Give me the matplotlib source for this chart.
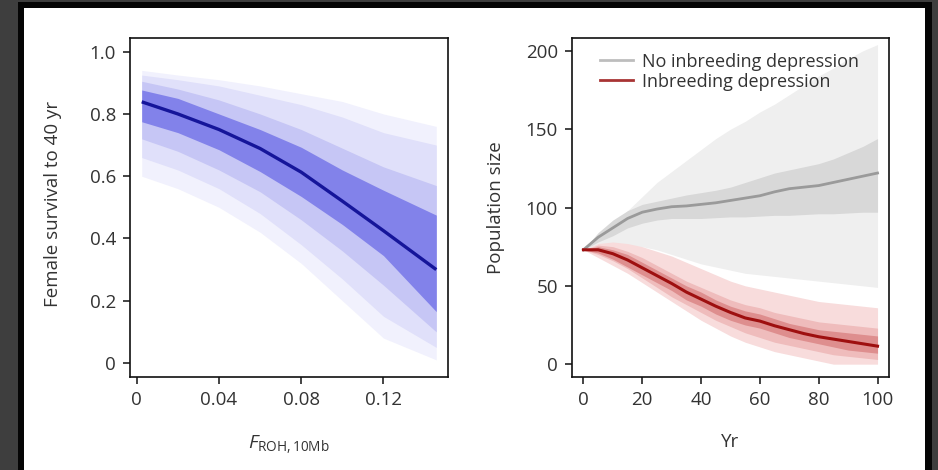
import matplotlib
matplotlib.use('Agg')
import matplotlib.pyplot as plt
from matplotlib.patches import Rectangle
from matplotlib.lines import Line2D

FONT = 'Open Sans'
plt.rcParams['font.family'] = [FONT, 'DejaVu Sans']
plt.rcParams['mathtext.fontset'] = 'custom'
plt.rcParams['mathtext.rm'] = FONT
plt.rcParams['mathtext.it'] = FONT + ':italic'

# ---------------- Left panel data ----------------
froh = [0.0024, 0.02, 0.04, 0.06, 0.08, 0.10, 0.12, 0.1457]
surv_median = [0.839, 0.800, 0.750, 0.689, 0.613, 0.520, 0.425, 0.300]
surv_dark_up = [0.877, 0.850, 0.800, 0.750, 0.693, 0.620, 0.555, 0.475]
surv_dark_lo = [0.775, 0.740, 0.685, 0.615, 0.535, 0.445, 0.345, 0.165]
surv_mid_up = [0.905, 0.880, 0.845, 0.800, 0.750, 0.690, 0.630, 0.570]
surv_mid_lo = [0.720, 0.680, 0.620, 0.550, 0.460, 0.360, 0.250, 0.100]
surv_out2_up = [0.925, 0.910, 0.890, 0.860, 0.830, 0.790, 0.740, 0.700]
surv_out2_lo = [0.660, 0.620, 0.560, 0.480, 0.380, 0.270, 0.150, 0.050]
surv_out_up = [0.940, 0.925, 0.910, 0.890, 0.865, 0.840, 0.800, 0.760]
surv_out_lo = [0.600, 0.560, 0.500, 0.420, 0.320, 0.200, 0.080, 0.010]
left_xticks = [0, 0.04, 0.08, 0.12]
left_xticklabels = ['0', '0.04', '0.08', '0.12']
left_yticks = [0, 0.2, 0.4, 0.6, 0.8, 1.0]
left_yticklabels = ['0', '0.2', '0.4', '0.6', '0.8', '1.0']

# ---------------- Right panel data ----------------
years = [0, 5, 10, 15, 20, 25, 30, 35, 40, 45, 50, 55, 60, 65, 70, 75, 80, 85, 90, 95, 100]
noid_median = [73, 81, 87, 93, 97, 99, 100.5, 101, 102, 103, 104.5, 106, 107.5, 110, 112, 113, 114, 116, 118, 120, 122]
noid_in_up = [73, 84, 92, 98, 102, 104, 106, 108, 109.5, 111, 113, 116, 119, 122, 124, 126, 128, 131, 135, 139, 144]
noid_in_lo = [73, 78, 82, 87, 90, 92, 93, 93, 93, 93.5, 94, 94, 94.5, 95, 95, 95.5, 96, 96, 96.5, 97, 97]
noid_out_up = [73, 80, 88, 98, 107, 116, 123, 130, 137, 144, 150, 155, 161, 166, 172, 178, 184, 189, 195, 200, 204]
noid_out_lo = [73, 75, 76, 76, 75, 73, 70, 67, 64, 62, 60, 58, 57, 56, 55, 54, 53, 52, 51, 50, 49]

id_median = [73, 73, 70.5, 66.5, 61.5, 56.5, 51.5, 46, 41.5, 37, 33, 29.5, 27.5, 24.5, 22, 19.5, 17.5, 16, 14.5, 13, 11.5]
id_in_up = [73, 75, 73, 70, 65, 60, 55, 50, 46, 41, 37, 34, 32, 29, 26, 24, 22, 21, 20, 19, 18]
id_in_lo = [73, 71, 67, 62, 57, 52, 47, 41, 37, 32, 28, 25, 23, 20, 17, 15, 13, 11, 9, 8, 7]
id_mid_up = [73, 76, 75, 72, 68, 63, 58, 53, 49, 45, 41, 38, 36, 33, 31, 29, 27, 26, 25, 24, 23]
id_mid_lo = [73, 70, 66, 61, 55, 49, 43, 38, 33, 28, 24, 20, 17, 14, 12, 10, 8, 6, 5, 4, 3]
id_out_up = [73, 77, 78, 77, 75, 72, 69, 65, 61, 57, 53, 50, 48, 46, 44, 42, 40, 39, 38, 37, 36]
id_out_lo = [73, 68, 63, 58, 52, 46, 40, 34, 28, 23, 18, 14, 11, 8, 6, 4, 2, 0, 0, 0, 0]
right_xticks = [0, 20, 40, 60, 80, 100]
right_yticks = [0, 50, 100, 150, 200]
legend_labels = ['No inbreeding depression', 'Inbreeding depression']

# ---------------- Figure ----------------
W, H = 938, 470
fig = plt.figure(figsize=(W / 100, H / 100), dpi=100)
fig.patch.set_facecolor('#3e3e3e')
fig.add_artist(Rectangle((18 / W, 0), 914 / W, 468 / H, transform=fig.transFigure,
                         facecolor='#050505', edgecolor='none', zorder=-2))
fig.add_artist(Rectangle((24 / W, 0), 901 / W, 462 / H, transform=fig.transFigure,
                         facecolor='white', edgecolor='none', zorder=-1))

ax1 = fig.add_axes([130 / W, 93 / H, 318 / W, 339 / H])
ax2 = fig.add_axes([571.7 / W, 93.3 / H, 317.6 / W, 338.4 / H])

tick_color = '#333333'
for ax in (ax1, ax2):
    ax.set_facecolor('white')
    for s in ax.spines.values():
        s.set_color('#111111')
        s.set_linewidth(1.2)
    ax.tick_params(direction='out', length=5, width=1.1, color='#111111',
                   labelsize=13.5, labelcolor=tick_color, pad=5)

# Left panel
ax1.fill_between(froh, surv_out_lo, surv_out_up, color='#f1f1fd', lw=0)
ax1.fill_between(froh, surv_out2_lo, surv_out2_up, color='#e0e0fa', lw=0)
ax1.fill_between(froh, surv_mid_lo, surv_mid_up, color='#c6c6f5', lw=0)
ax1.fill_between(froh, surv_dark_lo, surv_dark_up, color='#8282ea', lw=0)
ax1.plot(froh, surv_median, color='#15159a', lw=2.4, solid_capstyle='butt')
ax1.set_xlim(-0.0033, 0.1514)
ax1.set_ylim(-0.045, 1.044)
ax1.set_xticks(left_xticks)
ax1.set_xticklabels(left_xticklabels)
ax1.set_yticks(left_yticks)
ax1.set_yticklabels(left_yticklabels)
ax1.set_ylabel('Female survival to 40 yr', fontsize=13.5, color=tick_color)
ax1.yaxis.set_label_coords(-0.215, 0.51)
ax1.set_xlabel(r'$F_{\mathrm{ROH,10Mb}}$', fontsize=14, color=tick_color)
ax1.xaxis.set_label_coords(0.5, -0.165)

# Right panel
ax2.fill_between(years, noid_out_lo, noid_out_up, color='#efefef', lw=0)
ax2.fill_between(years, noid_in_lo, noid_in_up, color='#d8d8d8', lw=0)
ax2.plot(years, noid_median, color='#9a9a9a', lw=2)
ax2.fill_between(years, id_out_lo, id_out_up, color='#f8dcdc', lw=0)
ax2.fill_between(years, id_mid_lo, id_mid_up, color='#efbcbc', lw=0)
ax2.fill_between(years, id_in_lo, id_in_up, color='#de8e8e', lw=0)
ax2.plot(years, id_median, color='#9e0f0f', lw=2.2)
ax2.set_xlim(-4, 104)
ax2.set_ylim(-8, 208)
ax2.set_xticks(right_xticks)
ax2.set_yticks(right_yticks)
ax2.set_ylabel('Population size', fontsize=13.5, color=tick_color)
ax2.yaxis.set_label_coords(-0.21, 0.5)
ax2.set_xlabel('Yr', fontsize=13.5, color=tick_color)
ax2.xaxis.set_label_coords(0.5, -0.165)

handles = [Line2D([], [], color='#bdbdbd', lw=2),
           Line2D([], [], color='#a83434', lw=2)]
ax2.legend(handles, legend_labels, loc='upper left', bbox_to_anchor=(0.045, 1.0),
           frameon=False, fontsize=13, handlelength=1.8, handletextpad=0.5,
           labelspacing=0.1, borderaxespad=0.4, labelcolor=tick_color)

fig.savefig('out.png', dpi=100, facecolor=fig.get_facecolor())
